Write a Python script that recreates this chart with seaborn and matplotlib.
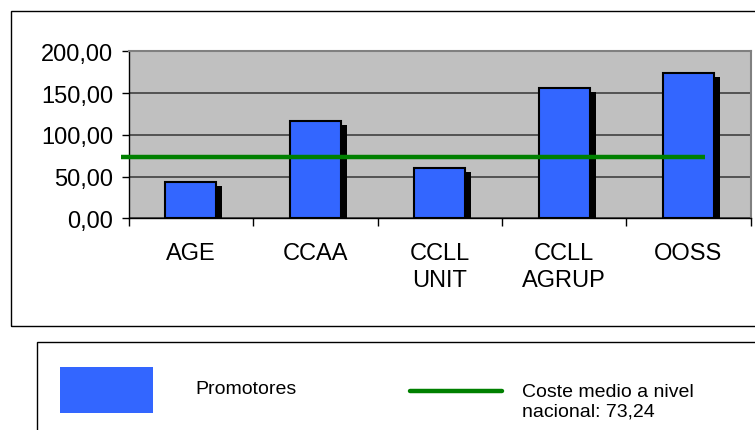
"""Coste medio por promotor - recreated bar chart"""
import matplotlib
matplotlib.use("Agg")
import matplotlib.pyplot as plt
import matplotlib.transforms as mtransforms
from matplotlib.patches import Rectangle
from matplotlib.lines import Line2D
import pandas as pd
import seaborn as sns

# data
categorias = ["AGE", "CCAA", "CCLL\nUNIT", "CCLL\nAGRUP", "OOSS"]
promotores = [44.0, 116.5, 60.5, 155.8, 174.5]
coste_medio = 73.24
y_ticks = [0, 50, 100, 150, 200]

BLUE = "#3366FF"
GREEN = "#008000"

sns.set_theme(style="white")
plt.rcParams["font.family"] = ["Liberation Sans", "DejaVu Sans"]
plt.rcParams.update({"text.color": "black", "xtick.color": "black",
                     "ytick.color": "black", "axes.labelcolor": "black"})

df = pd.DataFrame({"categoria": categorias, "valor": promotores})

fig = plt.figure(figsize=(7.55, 4.31), dpi=100)
ax = fig.add_axes([0.1705, 0.4912, 0.8238, 0.3875])
ax.set_facecolor("#C0C0C0")

sns.barplot(data=df, x="categoria", y="valor", color=BLUE, saturation=1,
            width=0.41, edgecolor="black", linewidth=1.5, ax=ax, zorder=3)

# drop shadows behind the bars
shadow_tr = ax.transData + mtransforms.ScaledTranslation(6 / 100, -4 / 100, fig.dpi_scale_trans)
for p in list(ax.patches):
    sh = Rectangle(p.get_xy(), p.get_width(), p.get_height(), facecolor="black",
                   edgecolor="none", transform=shadow_tr, zorder=2)
    ax.add_patch(sh)

# national average line
ax.hlines(coste_medio, -0.56, 4.13, color=GREEN, linewidth=3.2, zorder=4, clip_on=False)

ax.set_xlim(-0.5, 4.5)
ax.set_ylim(0, 200)
ax.set_yticks(y_ticks)
ax.set_yticklabels([f"{v:.2f}".replace(".", ",") for v in y_ticks], fontsize=17)
ax.yaxis.grid(True, color="#404040", linewidth=1.2, zorder=1)
ax.set_axisbelow(True)
ax.set_xlabel("")
ax.set_ylabel("")

ax.set_xticks(range(len(categorias)))
ax.set_xticklabels(categorias, fontsize=17, linespacing=1.3)
ax.set_xticks([i - 0.5 for i in range(len(categorias) + 1)], minor=True)
ax.tick_params(axis="x", which="major", length=0, pad=17, labelcolor="black")
ax.tick_params(axis="x", which="minor", length=6, width=1, color="black", direction="out", bottom=True)
ax.tick_params(axis="y", length=5, width=1, color="black", direction="out", left=True, pad=6,
               labelcolor="black")

for side in ["top", "right"]:
    ax.spines[side].set_color("#808080")
    ax.spines[side].set_linewidth(1.5)
for side in ["left", "bottom"]:
    ax.spines[side].set_color("black")
    ax.spines[side].set_linewidth(1)

# outer chart frame
fig.patches.append(Rectangle((11 / 755, 1 - 327 / 431), 1.0, (327 - 12) / 431,
                             transform=fig.transFigure, fill=False,
                             edgecolor="black", linewidth=1, zorder=0))

# legend box
fig.patches.append(Rectangle((37 / 755, -0.1), 1.0, 0.1 + (1 - 343 / 431),
                             transform=fig.transFigure, fill=False,
                             edgecolor="black", linewidth=1, zorder=0))
fig.patches.append(Rectangle((60 / 755, 1 - 414 / 431), 93 / 755, 46 / 431,
                             transform=fig.transFigure, facecolor=BLUE,
                             edgecolor="none"))
fig.text(195 / 755, 1 - 390 / 431, "Promotores", fontsize=14, va="center", ha="left",
         color="black")
fig.lines.append(Line2D([410 / 755, 502 / 755], [1 - 392 / 431] * 2,
                        transform=fig.transFigure, color=GREEN, linewidth=3.2))
fig.text(522 / 755, 1 - 402.5 / 431,
         "Coste medio a nivel\nnacional: " + f"{coste_medio:.2f}".replace(".", ","),
         fontsize=14, va="center", ha="left", linespacing=1.2, color="black")

fig.savefig("out.png", dpi=100, facecolor="white")
